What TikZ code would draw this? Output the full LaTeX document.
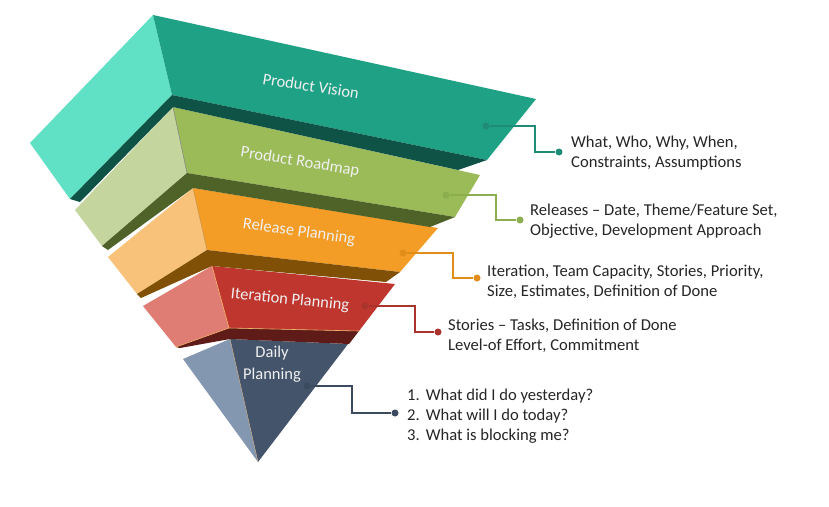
\documentclass[tikz,border=0pt]{standalone}
\usepackage{fontspec}
\setmainfont{Carlito}
\definecolor{visF}{HTML}{1FA186}
\definecolor{visL}{HTML}{60E0C4}
\definecolor{visB}{HTML}{0E5345}
\definecolor{visC}{HTML}{1E8C76}
\definecolor{roaF}{HTML}{9BBB59}
\definecolor{roaL}{HTML}{C4D69E}
\definecolor{roaB}{HTML}{4F6228}
\definecolor{roaC}{HTML}{8CAE4E}
\definecolor{relF}{HTML}{F39C26}
\definecolor{relL}{HTML}{F8C27B}
\definecolor{relB}{HTML}{7F5006}
\definecolor{relC}{HTML}{E08D1A}
\definecolor{itF}{HTML}{BF362F}
\definecolor{itL}{HTML}{DF7D75}
\definecolor{itB}{HTML}{5E1B17}
\definecolor{itC}{HTML}{A8342D}
\definecolor{dayF}{HTML}{44546A}
\definecolor{dayL}{HTML}{8497B0}
\definecolor{dayC}{HTML}{3B4A5E}
\definecolor{txt}{HTML}{262626}
\definecolor{hilite}{HTML}{F2B36A}
\begin{document}
\begin{tikzpicture}[x=1pt,y=-1pt,
  conn/.style={line width=1.4pt},
  dotnode/.style={circle,inner sep=0pt,minimum size=7pt},
  lbl/.style={text=white!94!black,font=\fontsize{16.5}{21}\selectfont,inner sep=0pt},
  note/.style={anchor=west,align=left,text=txt,font=\fontsize{16.6}{20}\selectfont,inner sep=0pt}]
\useasboundingbox (0,0) rectangle (829,506);
\fill[white] (0,0) rectangle (829,506);

% ---------- Daily Planning ----------
\coordinate (DT) at (230,339);
\coordinate (DL) at (183,359);
\coordinate (DA) at (258,462);
\coordinate (DR) at (348,344);
\fill[dayL] (DT) -- (DL) -- (DA) -- cycle;
\fill[dayF] (DT) -- (DR) -- (DA) -- cycle;
\draw[hilite!60!dayL,line width=0.5pt] (DT) -- (DA);

% ---------- Iteration Planning ----------
\coordinate (IT) at (212,266);
\coordinate (IL) at (143,306);
\coordinate (IB) at (176,347);
\coordinate (IC) at (229,328);
\coordinate (IR) at (395,284);
\coordinate (IBR) at (359,331);
\fill[itL] (IT) -- (IL) -- (IB) -- (IC) -- cycle;
\fill[itF] (IT) -- (IR) -- (IBR) -- (IC) -- cycle;
\fill[itB] (IB) -- (IC) -- (IBR) -- (349,344) -- (DT) -- (180,348) -- cycle;
\draw[hilite,line width=0.6pt] (IT) -- (IC) -- (IB) (IC) -- (IBR);

% ---------- Release Planning ----------
\coordinate (RT) at (193,188);
\coordinate (RL) at (108,257);
\coordinate (RB) at (137,294);
\coordinate (RC) at (207,250);
\coordinate (RR) at (438,228);
\coordinate (RBR) at (400,272);
\fill[relL] (RT) -- (RL) -- (RB) -- (RC) -- cycle;
\fill[relF] (RT) -- (RR) -- (RBR) -- (RC) -- cycle;
\fill[relB] (RB) -- (RC) -- (RBR) -- (386,282) -- (IT) -- (141,298) -- cycle;
\draw[relB!40!relL,line width=0.5pt] (RT) -- (RC);

% ---------- Product Roadmap ----------
\coordinate (PT) at (173,107);
\coordinate (PL) at (75,210);
\coordinate (PB) at (102,246);
\coordinate (PC) at (187,173);
\coordinate (PR) at (480,175);
\coordinate (PBR) at (455,217);
\fill[roaL] (PT) -- (PL) -- (PB) -- (PC) -- cycle;
\fill[roaF] (PT) -- (PR) -- (PBR) -- (PC) -- cycle;
\fill[roaB] (PB) -- (PC) -- (PBR) -- (430,227) -- (RT) -- (108,250) -- cycle;
\draw[gray,line width=0.5pt] (PT) -- (PC);

% ---------- Product Vision ----------
\coordinate (VT) at (153,15);
\coordinate (VL) at (30,143);
\coordinate (VB) at (70,199);
\coordinate (VC) at (172,95);
\coordinate (VR) at (536,99);
\coordinate (VBR) at (487,160);
\fill[visL] (VT) -- (VL) -- (VB) -- (VC) -- cycle;
\fill[visF] (VT) -- (VR) -- (VBR) -- (VC) -- cycle;
\fill[visB] (VB) -- (VC) -- (VBR) -- (458,170) -- (PT) -- (80,202) -- cycle;

% ---------- labels on faces ----------
\node[lbl,rotate=-9] (lv) at (311,86) {Product Vision};
\node[lbl,rotate=-9] (lp) at (300,162) {Product Roadmap};
\node[lbl,rotate=-8] (lr) at (299,232) {Release Planning};
\node[lbl,rotate=-6] (li) at (290,300) {Iteration Planning};
\node[lbl,align=center,font=\fontsize{16.5}{22}\selectfont] (ld) at (272,364) {Daily\\Planning};

% ---------- connectors ----------
\node[dotnode,fill=visC] (v1) at (486,126) {};
\node[dotnode,fill=visC] (v2) at (559,152) {};
\coordinate (vk) at (535,140);
\draw[conn,visC] (v1) -| (vk) |- (v2);
\node[note] (vt) at (571,153) {What, Who, Why, When,\\Constraints, Assumptions};

\node[dotnode,fill=roaC] (p1) at (446,195) {};
\node[dotnode,fill=roaC] (p2) at (520,220) {};
\coordinate (pk) at (496,208);
\draw[conn,roaC] (p1) -| (pk) |- (p2);
\node[note] (pt) at (530,221) {Releases -- Date, Theme/Feature Set,\\Objective, Development Approach};

\node[dotnode,fill=relC] (r1) at (403,253) {};
\node[dotnode,fill=relC] (r2) at (477,278) {};
\coordinate (rk) at (453,265);
\draw[conn,relC] (r1) -| (rk) |- (r2);
\node[note] (rt) at (487,282) {Iteration, Team Capacity, Stories, Priority,\\Size, Estimates, Definition of Done};

\node[dotnode,fill=itC] (i1) at (365,306) {};
\node[dotnode,fill=itC] (i2) at (438,332) {};
\coordinate (ik) at (415,319);
\draw[conn,itC] (i1) -| (ik) |- (i2);
\node[note] (it) at (448,336) {Stories -- Tasks, Definition of Done\\Level-of Effort, Commitment};

\node[dotnode,fill=dayC] (d1) at (307,386) {};
\node[dotnode,fill=dayC] (d2) at (395,413) {};
\coordinate (dk) at (352,400);
\draw[conn,dayC] (d1) -| (dk) |- (d2);
\node[note] (dt) at (407,416) {\begin{tabular}{@{}l@{\hspace{6pt}}l@{}}1. & What did I do yesterday?\\[0pt]2. & What will I do today?\\3. & What is blocking me?\end{tabular}};
\end{tikzpicture}
\end{document}
